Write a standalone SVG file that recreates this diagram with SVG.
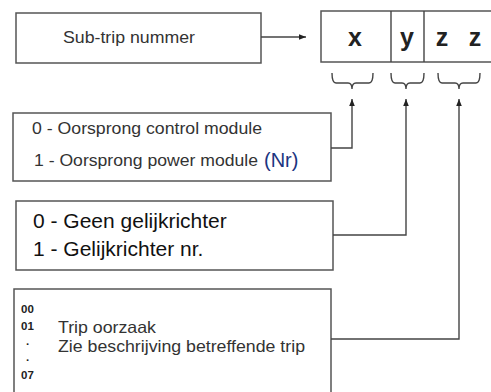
<svg xmlns="http://www.w3.org/2000/svg" width="491" height="392" viewBox="0 0 491 392">
<defs>
<style>
.box{fill:#fff;stroke:#555;stroke-width:1.5}
.ln{fill:none;stroke:#444;stroke-width:1.4}
.t{font-family:"Liberation Sans",Arial,sans-serif;fill:#333;font-size:16.5px}
.big{font-family:"Liberation Sans",Arial,sans-serif;fill:#111;font-size:21px}
.code{font-family:"Liberation Sans",Arial,sans-serif;font-weight:bold;fill:#222}
</style>
<marker id="ah" viewBox="0 0 10 10" refX="10" refY="5" markerWidth="8" markerHeight="7" markerUnits="userSpaceOnUse" orient="auto">
<path d="M0,1 L10,5 L0,9 Z" fill="#222"/>
</marker>
</defs>
<rect width="491" height="392" fill="#fff"/>
<g id="subtrip">
<rect class="box" x="16" y="13" width="245" height="50"/>
<text class="t" x="63" y="43" textLength="132" lengthAdjust="spacingAndGlyphs">Sub-trip nummer</text>
</g>
<g id="code">
<rect class="box" x="321" y="11" width="175" height="51"/>
<line class="ln" x1="391" y1="11" x2="391" y2="62" stroke="#777"/>
<line class="ln" x1="424" y1="11" x2="424" y2="62" stroke="#777"/>
<text class="code" x="355" y="46" font-size="25" text-anchor="middle">x</text>
<text class="code" x="407" y="46" font-size="25" text-anchor="middle">y</text>
<text class="code" x="442" y="46" font-size="25" text-anchor="middle">z</text>
<text class="code" x="475" y="46" font-size="25" text-anchor="middle">z</text>
</g>
<g id="box1">
<rect class="box" x="13" y="113" width="318" height="68"/>
<text class="t" x="32" y="134" textLength="230" lengthAdjust="spacingAndGlyphs">0 - Oorsprong control module</text>
<text class="t" x="34" y="166" textLength="224" lengthAdjust="spacingAndGlyphs">1 - Oorsprong power module</text>
<text x="264" y="167" font-family="'Liberation Sans',Arial,sans-serif" fill="#1c3480" font-size="20">(Nr)</text>
</g>
<g id="box2">
<rect class="box" x="16" y="201" width="317" height="69"/>
<text class="big" x="33" y="228">0 - Geen gelijkrichter</text>
<text class="big" x="33" y="256">1 - Gelijkrichter nr.</text>
</g>
<g id="box3">
<rect class="box" x="14" y="289" width="317" height="110"/>
<text class="code" x="21" y="313" font-size="11.5">00</text>
<text class="code" x="21" y="330" font-size="11.5">01</text>
<text class="code" x="26" y="348" font-size="11.5">·</text>
<text class="code" x="26" y="361" font-size="11.5">.</text>
<text class="code" x="21" y="379" font-size="11.5">07</text>
<text class="t" x="58" y="333" textLength="98" lengthAdjust="spacingAndGlyphs">Trip oorzaak</text>
<text class="t" x="58" y="352" textLength="247" lengthAdjust="spacingAndGlyphs">Zie beschrijving betreffende trip</text>
</g>
<g id="connectors">
<line class="ln" x1="261" y1="37" x2="306" y2="37" marker-end="url(#ah)"/>
<path class="ln" d="M332,73 Q332,83 336,83 L348,83 Q352,83 352,89 Q352,83 356,83 L369,83 Q373,83 373,73"/>
<path class="ln" d="M391,73 Q391,83 395,83 L402,83 Q406,83 406,89 Q406,83 410,83 L420,83 Q424,83 424,73"/>
<path class="ln" d="M438,73 Q438,83 442,83 L455,83 Q459,83 459,89 Q459,83 463,83 L476,83 Q480,83 480,73"/>
<path class="ln" d="M331,148 L352,148 L352,99" marker-end="url(#ah)"/>
<path class="ln" d="M333,235 L406,235 L406,99" marker-end="url(#ah)"/>
<path class="ln" d="M331,339 L459,339 L459,99" marker-end="url(#ah)"/>
</g>
</svg>
